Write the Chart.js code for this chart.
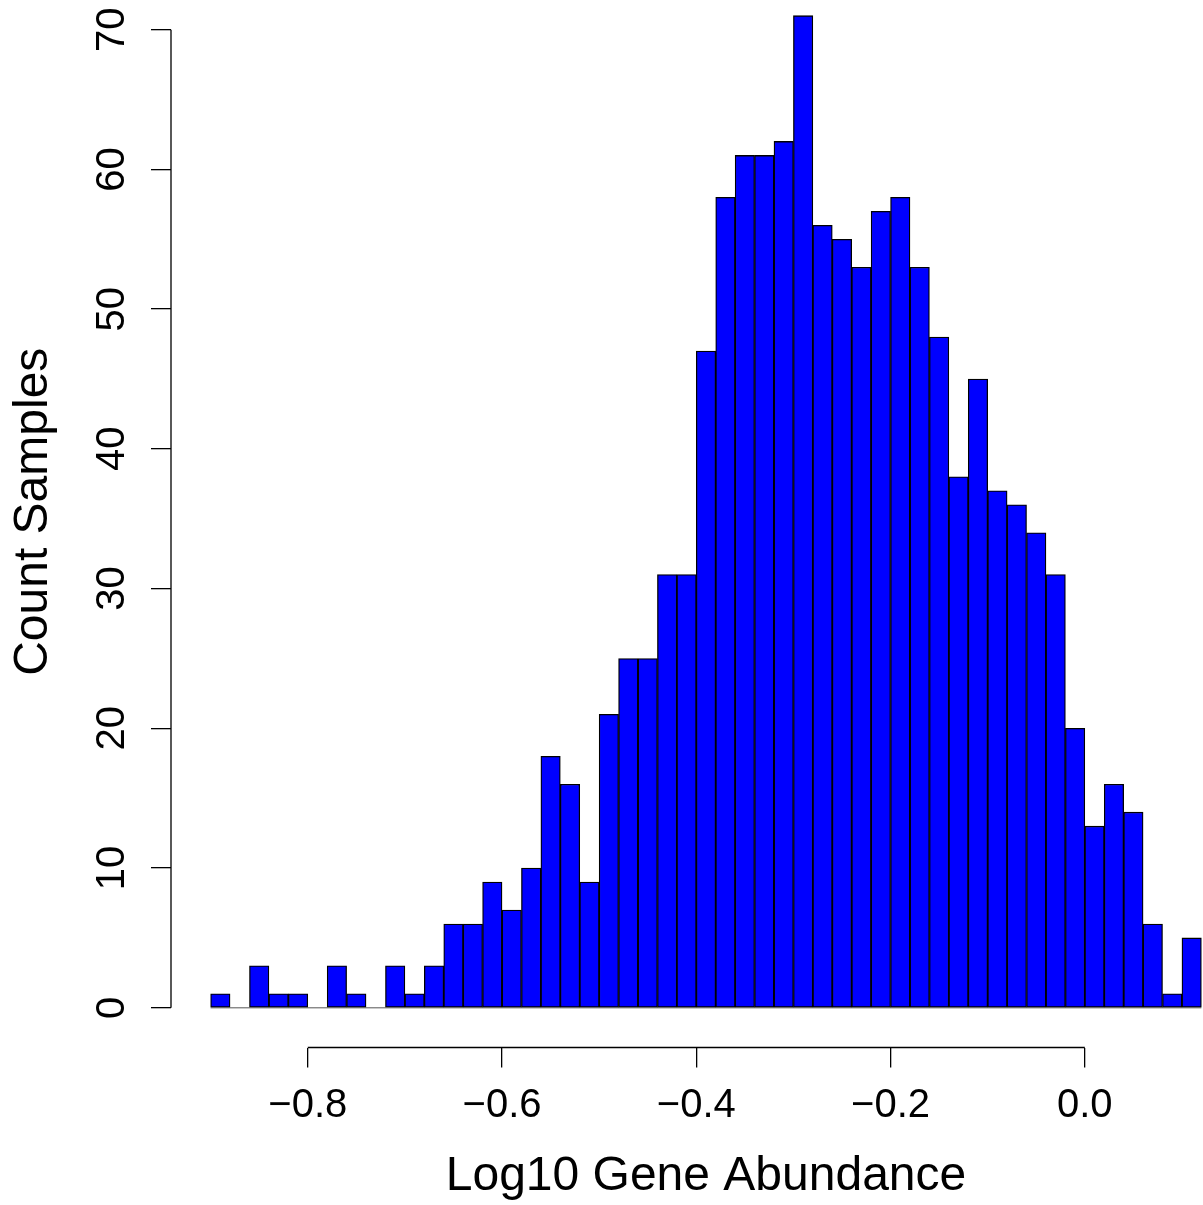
<!DOCTYPE html>
<html>
<head>
<meta charset="utf-8">
<script src="https://cdn.jsdelivr.net/npm/chart.js@4.4.1/dist/chart.umd.min.js"></script>
<style>
  html, body { margin: 0; padding: 0; background: #fff; overflow: hidden; }
  #wrap { position: absolute; left: 0; top: -24px; width: 1241px; height: 1229px; }
</style>
</head>
<body>
<div id="wrap"><canvas id="myChart"></canvas></div>
<script>
// histogram bins (left edges), width 0.02
var binLeft = [
  -0.90, -0.88, -0.86, -0.84, -0.82, -0.80, -0.78, -0.76, -0.74, -0.72,
  -0.70, -0.68, -0.66, -0.64, -0.62, -0.60, -0.58, -0.56, -0.54, -0.52,
  -0.50, -0.48, -0.46, -0.44, -0.42, -0.40, -0.38, -0.36, -0.34, -0.32,
  -0.30, -0.28, -0.26, -0.24, -0.22, -0.20, -0.18, -0.16, -0.14, -0.12,
  -0.10, -0.08, -0.06, -0.04, -0.02, 0.00, 0.02, 0.04, 0.06, 0.08,
  0.10
];
var binWidth = 0.02;
var counts = [
  1, 0, 3, 1, 1, 0, 3, 1, 0, 3,
  1, 3, 6, 6, 9, 7, 10, 18, 16, 9,
  21, 25, 25, 31, 31, 47, 58, 61, 61, 62,
  71, 56, 55, 53, 57, 58, 53, 48, 38, 45,
  37, 36, 34, 31, 20, 13, 16, 14, 6, 1,
  5
];
var xRange = [-0.9408, 0.1608];
var yRange = [-2.84, 73.84];
var xStep = 0.2;
var yStep = 10;
var xTitle = 'Log10 Gene Abundance';
var yTitle = 'Count Samples';

var fontFamily = '"Liberation Sans", Arial, Helvetica, sans-serif';

var points = binLeft.map(function (b, i) {
  return { x: b + binWidth / 2, y: counts[i] };
});

// R style axes: line only from first to last tick, plus zero line under the bars
var rAxes = {
  id: 'rAxes',
  beforeDatasetsDraw: function (chart) {
    var ctx = chart.ctx, xs = chart.scales.x, ys = chart.scales.y;
    var y0 = ys.getPixelForValue(0);
    ctx.save();
    ctx.strokeStyle = '#555';
    ctx.lineWidth = 1;
    ctx.beginPath();
    ctx.moveTo(xs.getPixelForValue(binLeft[0]), y0);
    ctx.lineTo(xs.getPixelForValue(binLeft[binLeft.length - 1] + binWidth), y0);
    ctx.stroke();
    ctx.restore();
  },
  afterDraw: function (chart) {
    var ctx = chart.ctx, xs = chart.scales.x, ys = chart.scales.y;
    var area = chart.chartArea;
    ctx.save();
    ctx.strokeStyle = '#000';
    ctx.lineWidth = 1.3;
    ctx.beginPath();
    ctx.moveTo(xs.getPixelForValue(xs.ticks[0].value), area.bottom);
    ctx.lineTo(xs.getPixelForValue(xs.ticks[xs.ticks.length - 1].value), area.bottom);
    ctx.moveTo(area.left, ys.getPixelForValue(ys.ticks[0].value));
    ctx.lineTo(area.left, ys.getPixelForValue(ys.ticks[ys.ticks.length - 1].value));
    ctx.stroke();
    ctx.restore();
  }
};

var element = document.getElementById('myChart').getContext('2d');
var chart = new Chart(element, {
  type: 'bar',
  data: {
    datasets: [{
      data: points,
      backgroundColor: '#0000ff',
      borderColor: '#000000',
      borderWidth: 1.3,
      borderSkipped: false,
      barPercentage: 1,
      categoryPercentage: 1
    }]
  },
  options: {
    responsive: true,
    maintainAspectRatio: false,
    animation: false,
    layout: { padding: 0 },
    plugins: { legend: { display: false }, tooltip: { enabled: false } },
    scales: {
      x: {
        type: 'linear',
        min: xRange[0],
        max: xRange[1],
        offset: false,
        border: { display: false },
        grid: { offset: false, drawOnChartArea: false, drawTicks: true, tickLength: 20, color: '#000', lineWidth: 1.3 },
        ticks: {
          stepSize: xStep,
          includeBounds: false,
          maxRotation: 0,
          padding: 18,
          color: '#000',
          font: { family: fontFamily, size: 40, lineHeight: 1 },
          callback: function (v) { return Number(v).toFixed(1).replace('-', '\u2212'); }
        },
        title: {
          display: true,
          text: xTitle,
          color: '#000',
          font: { family: fontFamily, size: 48, lineHeight: 1 },
          padding: { top: 0, bottom: 4 }
        },
        afterFit: function (s) {
          s.height = 157.5;
          s.paddingLeft = 0; s.paddingRight = 0;
        }
      },
      y: {
        type: 'linear',
        min: yRange[0],
        max: yRange[1],
        border: { display: false },
        grid: { offset: false, drawOnChartArea: false, drawTicks: true, tickLength: 20, color: '#000', lineWidth: 1.3 },
        ticks: {
          stepSize: yStep,
          includeBounds: false,
          minRotation: 90,
          maxRotation: 90,
          crossAlign: 'center',
          padding: 16,
          color: '#000',
          font: { family: fontFamily, size: 40, lineHeight: 1 },
          callback: function (v) { return String(v); }
        },
        title: {
          display: true,
          text: yTitle,
          color: '#000',
          font: { family: fontFamily, size: 48, lineHeight: 1 },
          padding: { top: 10, bottom: 0 }
        },
        afterFit: function (s) {
          s.width = 171;
          s.paddingTop = 0; s.paddingBottom = 0;
        }
      }
    }
  },
  plugins: [rAxes]
});
</script>
</body>
</html>
